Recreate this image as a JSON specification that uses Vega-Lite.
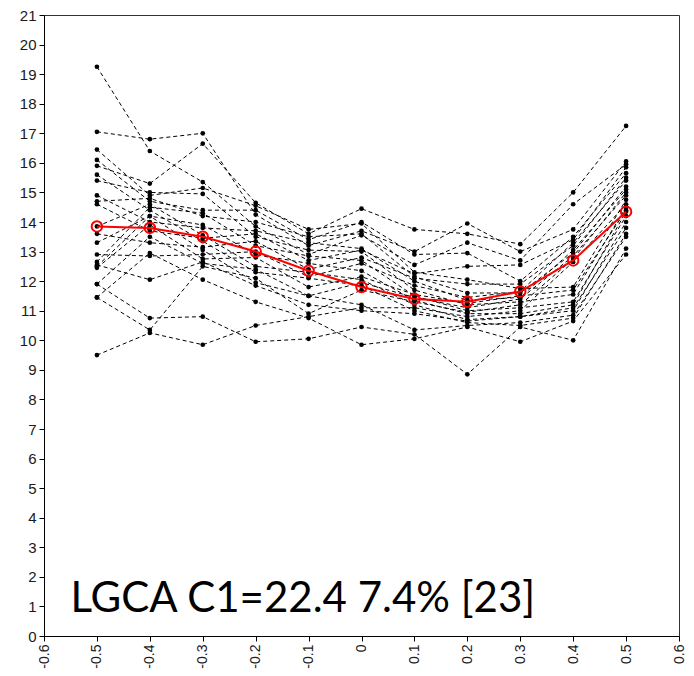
{
  "$schema": "https://vega.github.io/schema/vega-lite/v6.json",
  "width": 635,
  "height": 621,
  "autosize": "none",
  "padding": {"left": 44, "top": 15, "right": 15, "bottom": 40},
  "background": "white",
  "config": {
    "view": {"stroke": "#333", "strokeWidth": 1},
    "axis": {"grid": false, "domainColor": "#000", "tickColor": "#000", "labelColor": "#1a1a1a", "labelFont": "Liberation Sans", "tickSize": 5, "domainWidth": 1, "tickWidth": 1}
  },
  "datasets": {
    "subjects": [
      {"s":0,"x":-0.5,"y":19.25},{"s":0,"x":-0.4,"y":16.4},{"s":0,"x":-0.3,"y":15.35},{"s":0,"x":-0.2,"y":13.85},{"s":0,"x":-0.1,"y":12.9},{"s":0,"x":0,"y":13.55},{"s":0,"x":0.1,"y":12.55},{"s":0,"x":0.2,"y":13.3},{"s":0,"x":0.3,"y":12.7},{"s":0,"x":0.4,"y":14.6},{"s":0,"x":0.5,"y":15.95},
      {"s":1,"x":-0.5,"y":17.05},{"s":1,"x":-0.4,"y":16.8},{"s":1,"x":-0.3,"y":17.0},{"s":1,"x":-0.2,"y":14.25},{"s":1,"x":-0.1,"y":13.2},{"s":1,"x":0,"y":13.7},{"s":1,"x":0.1,"y":13.0},{"s":1,"x":0.2,"y":13.95},{"s":1,"x":0.3,"y":13.0},{"s":1,"x":0.4,"y":13.75},{"s":1,"x":0.5,"y":16.05},
      {"s":2,"x":-0.5,"y":16.45},{"s":2,"x":-0.4,"y":14.9},{"s":2,"x":-0.3,"y":15.15},{"s":2,"x":-0.2,"y":14.55},{"s":2,"x":-0.1,"y":13.75},{"s":2,"x":0,"y":13.95},{"s":2,"x":0.1,"y":12.3},{"s":2,"x":0.2,"y":12.05},{"s":2,"x":0.3,"y":11.75},{"s":2,"x":0.4,"y":11.8},{"s":2,"x":0.5,"y":14.75},
      {"s":3,"x":-0.5,"y":16.1},{"s":3,"x":-0.4,"y":14.7},{"s":3,"x":-0.3,"y":14.4},{"s":3,"x":-0.2,"y":14.4},{"s":3,"x":-0.1,"y":13.4},{"s":3,"x":0,"y":14.0},{"s":3,"x":0.1,"y":12.9},{"s":3,"x":0.2,"y":12.95},{"s":3,"x":0.3,"y":12.0},{"s":3,"x":0.4,"y":13.5},{"s":3,"x":0.5,"y":15.65},
      {"s":4,"x":-0.5,"y":15.9},{"s":4,"x":-0.4,"y":15.3},{"s":4,"x":-0.3,"y":16.65},{"s":4,"x":-0.2,"y":14.65},{"s":4,"x":-0.1,"y":13.6},{"s":4,"x":0,"y":14.45},{"s":4,"x":0.1,"y":13.75},{"s":4,"x":0.2,"y":13.6},{"s":4,"x":0.3,"y":13.25},{"s":4,"x":0.4,"y":15.0},{"s":4,"x":0.5,"y":17.25},
      {"s":5,"x":-0.5,"y":15.6},{"s":5,"x":-0.4,"y":14.4},{"s":5,"x":-0.3,"y":13.35},{"s":5,"x":-0.2,"y":12.3},{"s":5,"x":-0.1,"y":12.1},{"s":5,"x":0,"y":11.85},{"s":5,"x":0.1,"y":11.0},{"s":5,"x":0.2,"y":10.6},{"s":5,"x":0.3,"y":10.5},{"s":5,"x":0.4,"y":10.75},{"s":5,"x":0.5,"y":13.6},
      {"s":6,"x":-0.5,"y":15.4},{"s":6,"x":-0.4,"y":15.0},{"s":6,"x":-0.3,"y":14.95},{"s":6,"x":-0.2,"y":13.5},{"s":6,"x":-0.1,"y":13.05},{"s":6,"x":0,"y":13.0},{"s":6,"x":0.1,"y":11.7},{"s":6,"x":0.2,"y":11.2},{"s":6,"x":0.3,"y":11.3},{"s":6,"x":0.4,"y":11.55},{"s":6,"x":0.5,"y":14.5},
      {"s":7,"x":-0.5,"y":14.9},{"s":7,"x":-0.4,"y":14.0},{"s":7,"x":-0.3,"y":13.8},{"s":7,"x":-0.2,"y":13.7},{"s":7,"x":-0.1,"y":13.3},{"s":7,"x":0,"y":13.1},{"s":7,"x":0.1,"y":12.0},{"s":7,"x":0.2,"y":11.35},{"s":7,"x":0.3,"y":11.45},{"s":7,"x":0.4,"y":13.05},{"s":7,"x":0.5,"y":15.1},
      {"s":8,"x":-0.5,"y":14.7},{"s":8,"x":-0.4,"y":14.8},{"s":8,"x":-0.3,"y":14.2},{"s":8,"x":-0.2,"y":14.0},{"s":8,"x":-0.1,"y":13.5},{"s":8,"x":0,"y":13.6},{"s":8,"x":0.1,"y":12.15},{"s":8,"x":0.2,"y":11.6},{"s":8,"x":0.3,"y":11.6},{"s":8,"x":0.4,"y":12.95},{"s":8,"x":0.5,"y":15.2},
      {"s":9,"x":-0.5,"y":14.6},{"s":9,"x":-0.4,"y":13.7},{"s":9,"x":-0.3,"y":13.45},{"s":9,"x":-0.2,"y":13.6},{"s":9,"x":-0.1,"y":12.7},{"s":9,"x":0,"y":13.05},{"s":9,"x":0.1,"y":12.25},{"s":9,"x":0.2,"y":12.5},{"s":9,"x":0.3,"y":12.55},{"s":9,"x":0.4,"y":13.4},{"s":9,"x":0.5,"y":15.85},
      {"s":10,"x":-0.5,"y":13.85},{"s":10,"x":-0.4,"y":14.6},{"s":10,"x":-0.3,"y":13.55},{"s":10,"x":-0.2,"y":12.5},{"s":10,"x":-0.1,"y":12.3},{"s":10,"x":0,"y":12.05},{"s":10,"x":0.1,"y":11.2},{"s":10,"x":0.2,"y":10.7},{"s":10,"x":0.3,"y":10.8},{"s":10,"x":0.4,"y":11.0},{"s":10,"x":0.5,"y":14.0},
      {"s":11,"x":-0.5,"y":13.6},{"s":11,"x":-0.4,"y":13.3},{"s":11,"x":-0.3,"y":13.15},{"s":11,"x":-0.2,"y":13.35},{"s":11,"x":-0.1,"y":12.4},{"s":11,"x":0,"y":12.8},{"s":11,"x":0.1,"y":12.1},{"s":11,"x":0.2,"y":11.9},{"s":11,"x":0.3,"y":11.9},{"s":11,"x":0.4,"y":13.2},{"s":11,"x":0.5,"y":15.5},
      {"s":12,"x":-0.5,"y":13.3},{"s":12,"x":-0.4,"y":14.2},{"s":12,"x":-0.3,"y":13.9},{"s":12,"x":-0.2,"y":12.9},{"s":12,"x":-0.1,"y":12.6},{"s":12,"x":0,"y":12.35},{"s":12,"x":0.1,"y":11.35},{"s":12,"x":0.2,"y":10.9},{"s":12,"x":0.3,"y":10.9},{"s":12,"x":0.4,"y":11.2},{"s":12,"x":0.5,"y":14.35},
      {"s":13,"x":-0.5,"y":12.9},{"s":13,"x":-0.4,"y":12.85},{"s":13,"x":-0.3,"y":12.9},{"s":13,"x":-0.2,"y":13.0},{"s":13,"x":-0.1,"y":12.15},{"s":13,"x":0,"y":12.6},{"s":13,"x":0.1,"y":11.85},{"s":13,"x":0.2,"y":11.45},{"s":13,"x":0.3,"y":11.65},{"s":13,"x":0.4,"y":13.3},{"s":13,"x":0.5,"y":15.4},
      {"s":14,"x":-0.5,"y":12.65},{"s":14,"x":-0.4,"y":14.5},{"s":14,"x":-0.3,"y":14.3},{"s":14,"x":-0.2,"y":13.2},{"s":14,"x":-0.1,"y":12.85},{"s":14,"x":0,"y":12.7},{"s":14,"x":0.1,"y":11.5},{"s":14,"x":0.2,"y":11.0},{"s":14,"x":0.3,"y":11.1},{"s":14,"x":0.4,"y":11.3},{"s":14,"x":0.5,"y":14.2},
      {"s":15,"x":-0.5,"y":12.55},{"s":15,"x":-0.4,"y":12.05},{"s":15,"x":-0.3,"y":12.65},{"s":15,"x":-0.2,"y":11.85},{"s":15,"x":-0.1,"y":11.2},{"s":15,"x":0,"y":11.0},{"s":15,"x":0.1,"y":10.9},{"s":15,"x":0.2,"y":10.65},{"s":15,"x":0.3,"y":10.8},{"s":15,"x":0.4,"y":11.1},{"s":15,"x":0.5,"y":13.8},
      {"s":16,"x":-0.5,"y":12.5},{"s":16,"x":-0.4,"y":14.2},{"s":16,"x":-0.3,"y":13.05},{"s":16,"x":-0.2,"y":11.95},{"s":16,"x":-0.1,"y":11.5},{"s":16,"x":0,"y":11.2},{"s":16,"x":0.1,"y":10.35},{"s":16,"x":0.2,"y":10.5},{"s":16,"x":0.3,"y":10.6},{"s":16,"x":0.4,"y":10.85},{"s":16,"x":0.5,"y":13.5},
      {"s":17,"x":-0.5,"y":12.45},{"s":17,"x":-0.4,"y":13.9},{"s":17,"x":-0.3,"y":12.75},{"s":17,"x":-0.2,"y":12.8},{"s":17,"x":-0.1,"y":11.8},{"s":17,"x":0,"y":12.15},{"s":17,"x":0.1,"y":11.55},{"s":17,"x":0.2,"y":11.25},{"s":17,"x":0.3,"y":11.5},{"s":17,"x":0.4,"y":11.7},{"s":17,"x":0.5,"y":14.4},
      {"s":18,"x":-0.5,"y":11.9},{"s":18,"x":-0.4,"y":10.75},{"s":18,"x":-0.3,"y":10.8},{"s":18,"x":-0.2,"y":9.95},{"s":18,"x":-0.1,"y":10.05},{"s":18,"x":0,"y":10.45},{"s":18,"x":0.1,"y":10.2},{"s":18,"x":0.2,"y":8.85},{"s":18,"x":0.3,"y":10.45},{"s":18,"x":0.4,"y":10.0},{"s":18,"x":0.5,"y":13.1},
      {"s":19,"x":-0.5,"y":11.9},{"s":19,"x":-0.4,"y":13.5},{"s":19,"x":-0.3,"y":12.6},{"s":19,"x":-0.2,"y":12.4},{"s":19,"x":-0.1,"y":11.5},{"s":19,"x":0,"y":11.95},{"s":19,"x":0.1,"y":11.45},{"s":19,"x":0.2,"y":11.1},{"s":19,"x":0.3,"y":11.4},{"s":19,"x":0.4,"y":12.85},{"s":19,"x":0.5,"y":14.9},
      {"s":20,"x":-0.5,"y":11.45},{"s":20,"x":-0.4,"y":12.95},{"s":20,"x":-0.3,"y":12.05},{"s":20,"x":-0.2,"y":11.3},{"s":20,"x":-0.1,"y":10.75},{"s":20,"x":0,"y":9.85},{"s":20,"x":0.1,"y":10.05},{"s":20,"x":0.2,"y":10.45},{"s":20,"x":0.3,"y":9.95},{"s":20,"x":0.4,"y":10.65},{"s":20,"x":0.5,"y":12.9},
      {"s":21,"x":-0.5,"y":11.45},{"s":21,"x":-0.4,"y":10.35},{"s":21,"x":-0.3,"y":12.5},{"s":21,"x":-0.2,"y":12.1},{"s":21,"x":-0.1,"y":10.9},{"s":21,"x":0,"y":11.7},{"s":21,"x":0.1,"y":11.3},{"s":21,"x":0.2,"y":10.95},{"s":21,"x":0.3,"y":11.2},{"s":21,"x":0.4,"y":12.75},{"s":21,"x":0.5,"y":15.0},
      {"s":22,"x":-0.5,"y":9.5},{"s":22,"x":-0.4,"y":10.25},{"s":22,"x":-0.3,"y":9.85},{"s":22,"x":-0.2,"y":10.5},{"s":22,"x":-0.1,"y":10.8},{"s":22,"x":0,"y":11.1},{"s":22,"x":0.1,"y":11.1},{"s":22,"x":0.2,"y":10.8},{"s":22,"x":0.3,"y":11.0},{"s":22,"x":0.4,"y":12.65},{"s":22,"x":0.5,"y":14.6}
    ],
    "mean": [
      {"x":-0.5,"y":13.85},{"x":-0.4,"y":13.8},{"x":-0.3,"y":13.5},{"x":-0.2,"y":13.0},{"x":-0.1,"y":12.35},{"x":0,"y":11.8},{"x":0.1,"y":11.4},{"x":0.2,"y":11.3},{"x":0.3,"y":11.65},{"x":0.4,"y":12.7},{"x":0.5,"y":14.35}
    ],
    "note": [
      {"label": "LGCA C1=22.4 7.4% [23]", "x": -0.55, "y": 0.82}
    ]
  },
  "encoding": {
    "x": {"field": "x", "type": "quantitative", "scale": {"domain": [-0.6, 0.6], "nice": false, "zero": false},
      "axis": {"title": null, "values": [-0.6,-0.5,-0.4,-0.3,-0.2,-0.1,0,0.1,0.2,0.3,0.4,0.5,0.6], "labelAngle": -90, "labelFontSize": 14, "labelPadding": 3, "labelFlush": false, "labelOverlap": false,
        "labelExpr": "datum.value == 0 ? '0' : (datum.value < 0 ? '-' : '') + format(abs(datum.value), '.1f')"}},
    "y": {"field": "y", "type": "quantitative", "scale": {"domain": [0, 21], "nice": false},
      "axis": {"title": null, "values": [0,1,2,3,4,5,6,7,8,9,10,11,12,13,14,15,16,17,18,19,20,21], "labelFontSize": 15, "labelPadding": 3, "labelFlush": false, "labelOverlap": false}}
  },
  "layer": [
    {"data": {"name": "subjects"}, "mark": {"type": "line", "color": "#000", "strokeWidth": 1, "strokeDash": [4, 3]},
      "encoding": {"detail": {"field": "s", "type": "nominal"}, "order": {"field": "x", "type": "quantitative"}}},
    {"data": {"name": "subjects"}, "mark": {"type": "point", "filled": true, "color": "#000", "size": 22, "opacity": 1}},
    {"data": {"name": "mean"}, "mark": {"type": "line", "color": "#ff0000", "strokeWidth": 2}, "encoding": {}},
    {"data": {"name": "mean"}, "mark": {"type": "point", "filled": false, "color": "#ff0000", "strokeWidth": 2, "size": 110, "opacity": 1}},
    {"data": {"name": "note"}, "mark": {"type": "text", "font": "Lato", "fontSize": 42, "color": "#000", "align": "left", "baseline": "alphabetic"},
      "encoding": {"text": {"field": "label", "type": "nominal"}}}
  ]
}
